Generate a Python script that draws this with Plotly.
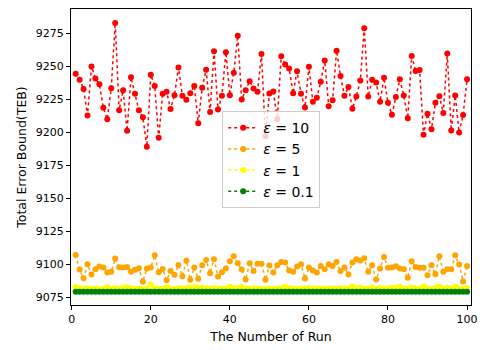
import plotly.graph_objects as go

runs = list(range(1, 101))

teb_eps10 = [
    9244.2, 9239.7, 9232.7, 9212.7, 9249.7, 9240.7, 9236.2, 9218.5, 9209.7, 9233.2,
    9282.7, 9216.5, 9231.7, 9201.0, 9241.5, 9229.0, 9216.5, 9211.2, 9189.0, 9243.5,
    9235.0, 9195.7, 9229.0, 9230.5, 9217.5, 9228.0, 9249.0, 9227.5, 9224.5, 9229.5,
    9235.0, 9206.7, 9233.7, 9247.2, 9215.2, 9261.2, 9217.2, 9227.5, 9260.5, 9228.0,
    9245.0, 9273.0, 9224.7, 9231.7, 9238.5, 9233.0, 9230.5, 9259.2, 9197.0, 9229.2,
    9230.7, 9210.0, 9257.5, 9251.2, 9248.2, 9229.5, 9246.0, 9229.0, 9218.7, 9249.5,
    9223.0, 9226.0, 9238.2, 9254.2, 9219.7, 9224.2, 9261.7, 9242.5, 9227.5, 9234.2,
    9217.7, 9227.0, 9239.0, 9278.7, 9227.0, 9239.7, 9237.5, 9223.0, 9241.2, 9222.2,
    9213.2, 9226.7, 9240.0, 9227.7, 9210.5, 9257.7, 9246.2, 9247.0, 9198.0, 9214.0,
    9202.2, 9222.2, 9227.2, 9214.5, 9259.5, 9201.2, 9227.7, 9199.7, 9213.0, 9240.0,
]

teb_eps5 = [
    9107.0, 9096.0, 9089.5, 9100.0, 9092.3, 9096.3, 9098.3, 9097.5, 9093.8, 9094.3,
    9104.3, 9097.8, 9097.5, 9098.0, 9094.3, 9095.8, 9097.0, 9086.8, 9096.8, 9097.5,
    9106.8, 9094.0, 9096.5, 9088.0, 9095.0, 9092.0, 9099.5, 9091.0, 9102.8, 9088.3,
    9097.5, 9089.0, 9099.3, 9103.3, 9093.3, 9103.8, 9090.8, 9094.0, 9096.8, 9102.3,
    9106.0, 9100.8, 9096.0, 9088.5, 9100.8, 9095.0, 9100.5, 9100.5, 9088.3, 9099.0,
    9093.8, 9099.3, 9101.8, 9101.3, 9095.3, 9094.3, 9098.3, 9100.0, 9089.3, 9097.5,
    9095.3, 9093.8, 9098.8, 9096.3, 9100.0, 9098.8, 9101.8, 9095.0, 9097.5, 9092.3,
    9101.3, 9103.8, 9102.8, 9104.5, 9094.3, 9099.3, 9088.5, 9096.8, 9105.5, 9097.3,
    9097.5, 9098.5, 9096.8, 9096.3, 9089.8, 9102.3, 9098.0, 9097.3, 9097.3, 9091.8,
    9099.3, 9092.5, 9106.0, 9094.3, 9096.3, 9096.3, 9106.8, 9099.8, 9087.0, 9098.8,
]

teb_eps1 = [
    9082.8, 9081.6, 9081.4, 9081.8, 9081.5, 9081.7, 9081.4, 9081.6, 9082.6, 9081.5,
    9081.8, 9081.4, 9082.2, 9082.4, 9081.6, 9081.5, 9081.7, 9081.4, 9081.6, 9084.8,
    9081.7, 9081.5, 9081.6, 9082.6, 9081.4, 9081.5, 9081.8, 9081.5, 9082.0, 9082.4,
    9082.6, 9082.2, 9082.5, 9081.6, 9081.5, 9081.8, 9081.6, 9081.5, 9081.7, 9083.0,
    9081.8, 9082.1, 9082.8, 9081.6, 9081.5, 9081.7, 9081.6, 9081.5, 9081.4, 9081.6,
    9081.5, 9081.7, 9081.5, 9083.0, 9081.8, 9081.6, 9081.5, 9081.7, 9081.6, 9082.0,
    9081.5, 9081.8, 9081.6, 9081.5, 9081.7, 9081.6, 9081.5, 9081.8, 9081.6, 9081.7,
    9083.2, 9081.6, 9082.2, 9081.5, 9081.6, 9082.4, 9081.5, 9082.0, 9081.7, 9081.6,
    9082.3, 9082.1, 9083.0, 9081.7, 9081.6, 9082.4, 9081.8, 9081.6, 9083.2, 9081.6,
    9081.5, 9082.0, 9083.0, 9081.7, 9082.2, 9081.6, 9083.0, 9081.5, 9081.7, 9082.0,
]

teb_eps01 = [9079.3] * 100

series = [
    ("<i>ε</i> = 10", teb_eps10, "red"),
    ("<i>ε</i> = 5", teb_eps5, "orange"),
    ("<i>ε</i> = 1", teb_eps1, "yellow"),
    ("<i>ε</i> = 0.1", teb_eps01, "green"),
]

fig = go.Figure()
for name, vals, color in series:
    fig.add_trace(go.Scatter(
        x=runs, y=vals, name=name, mode="lines+markers",
        line=dict(color=color, width=1.5, dash="dot"),
        marker=dict(color=color, size=6),
    ))

axis_common = dict(
    showgrid=False, zeroline=False, showline=True, linecolor="black", linewidth=1,
    mirror=True, ticks="outside", ticklen=4, tickcolor="black",
    tickfont=dict(family="DejaVu Sans", size=11, color="black"),
)

fig.update_layout(
    width=486, height=350,
    margin=dict(l=71, r=13, t=8, b=43),
    paper_bgcolor="white", plot_bgcolor="white",
    font=dict(family="DejaVu Sans", color="black"),
    xaxis=dict(range=[-0.18, 101], tickvals=[0, 20, 40, 60, 80, 100],
               title=dict(text="The Number of Run", font=dict(size=12.5), standoff=7),
               **axis_common),
    yaxis=dict(range=[9069.2, 9293.2], tickvals=[9075, 9100, 9125, 9150, 9175, 9200, 9225, 9250, 9275],
               title=dict(text="Total Error Bound(TEB)", font=dict(size=12.5), standoff=6),
               **axis_common),
    legend=dict(x=0.378, y=0.655, xanchor="left", yanchor="top",
                bgcolor="rgba(255,255,255,0.8)", bordercolor="#cccccc", borderwidth=1,
                font=dict(size=14, family="DejaVu Sans"), tracegroupgap=0),
    showlegend=True,
)

fig.write_html("out.html")
